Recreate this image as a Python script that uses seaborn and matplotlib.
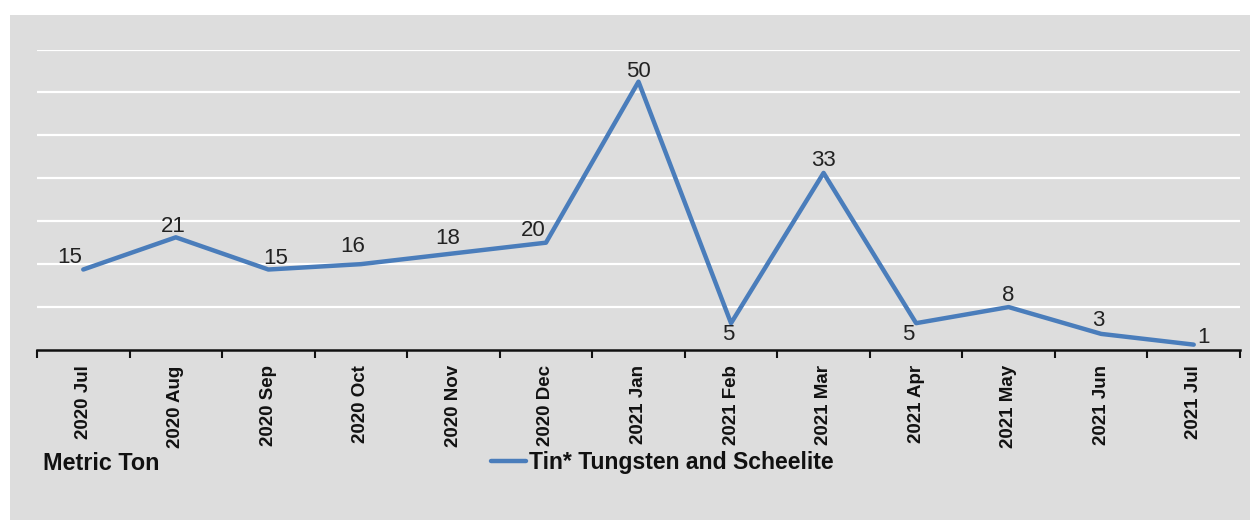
import numpy as np
import pandas as pd
import matplotlib
matplotlib.use('Agg')
import matplotlib.pyplot as plt
import seaborn as sns
from matplotlib.patches import Rectangle

# chart data
months = ['2020 Jul', '2020 Aug', '2020 Sep', '2020 Oct', '2020 Nov', '2020 Dec',
          '2021 Jan', '2021 Feb', '2021 Mar', '2021 Apr', '2021 May', '2021 Jun', '2021 Jul']
tonnes = [15, 21, 15, 16, 18, 20, 50, 5, 33, 5, 8, 3, 1]
series_name = 'Tin* Tungsten and Scheelite'
unit_label = 'Metric Ton'
grid_values = [8, 16, 24, 32, 40, 48, 56]

# label offsets in points (dx, dy), picked by eye
label_offsets = [(-10, 9), (-2, 8), (5, 8), (-6, 13), (-4, 11), (-9, 9),
                 (0, 7), (-2, -8), (0, 9), (-6, -8), (0, 8), (-2, 10), (7, 5)]

sns.set_style('white')
plt.rcParams['font.family'] = ['Liberation Sans', 'DejaVu Sans']

bg = '#dddddd'
line_color = '#4a7dbb'

fig = plt.figure(figsize=(12.58, 5.29), dpi=100)
fig.patch.set_facecolor('white')
# gray panel behind everything
panel = Rectangle((10 / 1258, 1 - 520 / 529), 1240 / 1258, 505 / 529,
                  transform=fig.transFigure, facecolor=bg, edgecolor='none', zorder=-10)
fig.add_artist(panel)

ax = fig.add_axes([37 / 1258, 1 - 350 / 529, (1240 - 37) / 1258, (350 - 49.5) / 529])
ax.set_zorder(2)
ax.patch.set_visible(False)

df = pd.DataFrame({'month': months, 'tonnes': tonnes})
sns.lineplot(data=df, x='month', y='tonnes', ax=ax, color=line_color, linewidth=3.2,
             label=series_name, sort=False)

for i, v in enumerate(tonnes):
    dx, dy = label_offsets[i]
    ax.annotate(str(v), (i, v), xytext=(dx, dy), textcoords='offset points',
                ha='center', va='center', fontsize=16, color='#222222')

ax.set_xlim(-0.5, len(months) - 0.5)
ax.set_ylim(0, 56)
for g in grid_values:
    ax.axhline(g, color='white', linewidth=1.6, zorder=0)

ax.set_yticks([])
ax.set_xticks(range(len(months)))
ax.set_xticklabels(months, rotation=90, fontsize=13.5, fontweight='bold', color='#111111')
ax.set_xticks(np.arange(-0.5, len(months), 1), minor=True)
ax.tick_params(axis='x', which='both', bottom=True)
ax.tick_params(axis='x', which='major', length=0, pad=11)
ax.tick_params(axis='x', which='minor', length=6, width=1.5, color='#111111', direction='out')
ax.set_xlabel('')
ax.set_ylabel('')

for s in ['top', 'right', 'left']:
    ax.spines[s].set_visible(False)
ax.spines['bottom'].set_color('#111111')
ax.spines['bottom'].set_linewidth(1.8)

fig.text(43 / 1258, 1 - 463 / 529, unit_label, fontsize=16.8, fontweight='bold',
         va='center', ha='left', color='#111111')

leg = ax.legend(loc='center left', bbox_to_anchor=(470 / 1258, 1 - 463 / 529),
                bbox_transform=fig.transFigure, frameon=False,
                handlelength=1.55, handletextpad=0.1,
                prop={'size': 16.6, 'weight': 'bold'})
for t in leg.get_texts():
    t.set_color('#111111')

fig.savefig('out.png', dpi=100, facecolor=fig.get_facecolor())
